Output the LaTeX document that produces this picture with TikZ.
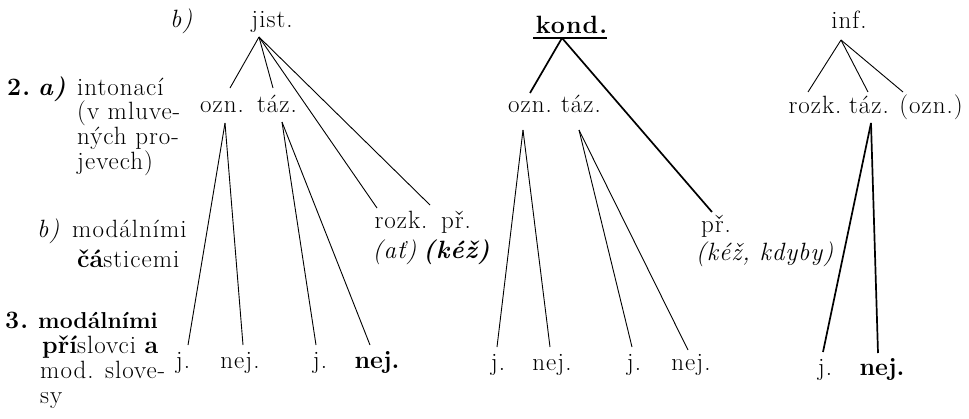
\documentclass[tikz,border=0pt]{standalone}
\usepackage{fontspec}
\setmainfont{Latin Modern Roman}[LetterSpace=4]
% bold type set without the extra letter spacing
\newcommand\tightbf[1]{{\bfseries\addfontfeatures{LetterSpace=0}#1}}
\begin{document}
\begin{tikzpicture}[x=1pt,y=-1pt,
  every node/.style={inner sep=0pt,font=\fontsize{25}{25}\selectfont},
  txt/.style={anchor=base},
  txtl/.style={anchor=base west},
  thinline/.style={line width=0.9pt},
  heavyline/.style={line width=1.7pt}]
\useasboundingbox[fill=white] (0,0) rectangle (969,418);

% ---- left column: the means of expression ----
\node[txtl] (n2) at (7,95) {\textbf{2.}};
\node[txtl] (a2) at (38,95) {\textbf{\textit{a)}}};
\node[txtl] (l1) at (77,95) {intonací};
\node[txtl] (l2) at (77,119) {(v mluve-};
\node[txtl] (l3) at (77,144) {ných pro-};
\node[txtl] (l4) at (77,169) {jevech)};
\node[txtl] (b2) at (37,237) {\textit{b)}};
\node[txtl] (l5) at (72,237) {modálními};
\node[txtl] (l6) at (77,267) {\tightbf{čá}sticemi};
\node[txtl] (n3) at (5,328) {\textbf{3.}};
\node[txtl,font=\fontsize{23}{25}\selectfont] (l7) at (38,328) {\tightbf{modálními}};
\node[txtl] (l8) at (42,353) {\tightbf{pří}slovci \tightbf{a}};
\node[txtl] (l9) at (40,378) {mod. slove-};
\node[txtl] (l10) at (40,403) {sy};
\node[txtl] (b1) at (170,27) {\textit{b)}};

% ---- tree 1: jist. ----
\node[txt] (jist) at (272,27) {jist.};
\node[txt] (ozn1) at (222,112) {ozn.};
\node[txt] (taz1) at (277,112) {táz.};
\node[txt] (rozk1) at (401,228) {rozk.};
\node[txt] (pr1) at (456,228) {př.};
\node[txt] (at1) at (395,258) {\textit{(ať)}};
\node[txt] (kez1) at (457,258) {\textbf{\textit{(kéž)}}};
\node[txt] (j1a) at (183,368) {j.};
\node[txt] (nej1a) at (240,368) {nej.};
\node[txt] (j1b) at (320,368) {j.};
\node[txt] (nej1b) at (377,368) {\tightbf{nej.}};

\coordinate (jistA) at ([shift={(-13,10)}]jist.base);
\coordinate (ozn1T) at ([shift={(8,-24)}]ozn1.base);
\coordinate (ozn1B) at ([shift={(3,11)}]ozn1.base);
\coordinate (taz1T) at ([shift={(-4,-24)}]taz1.base);
\coordinate (taz1B) at ([shift={(5,10)}]taz1.base);
\coordinate (rozk1T) at ([shift={(-24,-20)}]rozk1.base);
\coordinate (pr1T) at ([shift={(-26,-23)}]pr1.base);
\coordinate (j1aT) at ([shift={(5,-23)}]j1a.base);
\coordinate (nej1aT) at ([shift={(3,-23)}]nej1a.base);
\coordinate (j1bT) at ([shift={(-4,-23)}]j1b.base);
\coordinate (nej1bT) at ([shift={(-7,-23)}]nej1b.base);

\draw[thinline] (jistA) -- (ozn1T);
\draw[thinline] (jistA) -- (taz1T);
\draw[thinline] (jistA) -- (rozk1T);
\draw[thinline] (jistA) -- (pr1T);
\draw[thinline] (ozn1B) -- (j1aT);
\draw[thinline] (ozn1B) -- (nej1aT);
\draw[thinline] (taz1B) -- (j1bT);
\draw[thinline] (taz1B) -- (nej1bT);

% ---- tree 2: kond. ----
\node[txt] (kond) at (572,33) {\textbf{kond.}};
\node[txt] (ozn2) at (530,112) {ozn.};
\node[txt] (taz2) at (581,112) {táz.};
\node[txt] (pr2) at (716,232) {př.};
\node[txt] (kk2) at (765,260) {\textit{(kéž, kdyby)}};
\node[txt] (j2a) at (498,370) {j.};
\node[txt] (nej2a) at (552,370) {nej.};
\node[txt] (j2b) at (634,370) {j.};
\node[txt] (nej2b) at (691,370) {nej.};

\coordinate (kondL) at ([shift={(-39,5)}]kond.base);
\coordinate (kondR) at ([shift={(35,5)}]kond.base);
\coordinate (kondA) at ([shift={(-10,5)}]kond.base);
\coordinate (ozn2T) at ([shift={(0,-19)}]ozn2.base);
\coordinate (ozn2B) at ([shift={(-7,18)}]ozn2.base);
\coordinate (taz2B) at ([shift={(-2,18)}]taz2.base);
\coordinate (pr2T) at ([shift={(-4,-20)}]pr2.base);
\coordinate (j2aT) at ([shift={(-1,-23)}]j2a.base);
\coordinate (nej2aT) at ([shift={(-2,-23)}]nej2a.base);
\coordinate (j2bT) at ([shift={(-2,-23)}]j2b.base);
\coordinate (nej2bT) at ([shift={(-3,-20)}]nej2b.base);

\draw[heavyline] (kondL) -- (kondR);
\draw[heavyline] (kondA) -- (ozn2T);
\draw[heavyline] (kondA) -- (pr2T);
\draw[thinline] (ozn2B) -- (j2aT);
\draw[thinline] (ozn2B) -- (nej2aT);
\draw[thinline] (taz2B) -- (j2bT);
\draw[thinline] (taz2B) -- (nej2bT);

% ---- tree 3: inf. ----
\node[txt] (inf) at (849,28) {inf.};
\node[txt] (rozk3) at (815,113) {rozk.};
\node[txt] (taz3) at (869,113) {táz.};
\node[txt] (ozn3) at (931,113) {(ozn.)};
\node[txt] (j3) at (825,375) {j.};
\node[txt] (nej3) at (882,375) {\tightbf{nej.}};

\coordinate (infA) at ([shift={(-8,12)}]inf.base);
\coordinate (rozk3T) at ([shift={(-7,-21)}]rozk3.base);
\coordinate (taz3T) at ([shift={(-1,-21)}]taz3.base);
\coordinate (ozn3T) at ([shift={(-28,-21)}]ozn3.base);
\coordinate (taz3B) at ([shift={(2,10)}]taz3.base);
\coordinate (j3T) at ([shift={(-2,-23)}]j3.base);
\coordinate (nej3T) at ([shift={(-4,-22)}]nej3.base);

\draw[thinline] (infA) -- (rozk3T);
\draw[thinline] (infA) -- (taz3T);
\draw[thinline] (infA) -- (ozn3T);
\draw[heavyline] (taz3B) -- (j3T);
\draw[heavyline] (taz3B) -- (nej3T);
\end{tikzpicture}
\end{document}
